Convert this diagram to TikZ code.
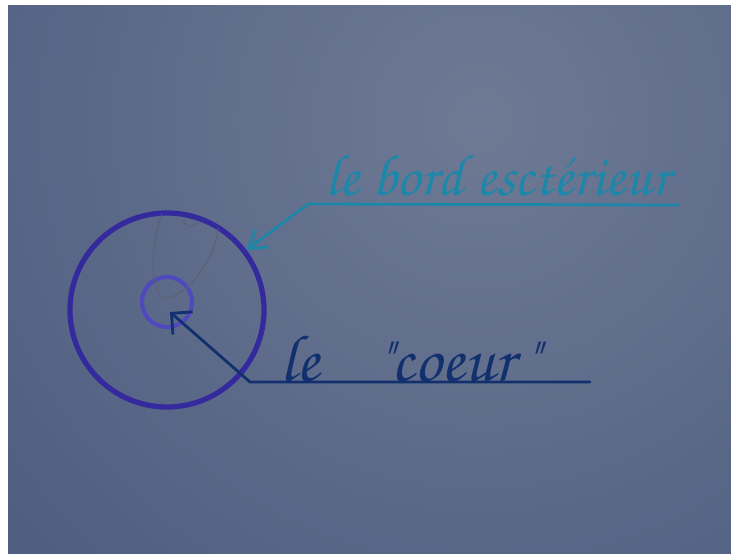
\documentclass[tikz,border=0pt]{standalone}
\usepackage[T1,TU]{fontenc}
\usetikzlibrary{arrows.meta}

\definecolor{fondclair}{RGB}{110,122,148}
\definecolor{fondsombre}{RGB}{64,80,120}
\definecolor{bordbleu}{RGB}{52,42,158}
\definecolor{coeurbleu}{RGB}{80,72,190}
\definecolor{turquoise}{RGB}{28,135,168}
\definecolor{marine}{RGB}{18,48,110}
\definecolor{crayon}{RGB}{92,97,110}

\newcommand{\ecriture}{\fontencoding{T1}\fontfamily{pzc}\fontseries{mb}\fontshape{it}\selectfont}

\begin{document}
\begin{tikzpicture}[x=0.03cm, y=-0.03cm,
    fleche/.style={line width=2.4pt, line cap=round, line join=round},
    etiquette/.style={anchor=base west, inner sep=0pt}]
    \useasboundingbox (0,0) rectangle (731,553);
    \fill[white] (0,0) rectangle (731,553);
    \begin{scope}
        \clip (8,5) rectangle (731,553);
        \shade[inner color=fondclair, outer color=fondsombre] (480,120) circle (920);
    \end{scope}
    % les deux cercles
    \node[circle, draw=bordbleu, line width=4.5pt, minimum size=5.82cm, inner sep=0pt] (bord) at (167,310) {};
    \node[circle, draw=coeurbleu, line width=3.5pt, minimum size=1.5cm, inner sep=0pt] (coeur) at (167,302) {};
    % trait au crayon
    \draw[crayon, line width=0.8pt] (162,214) .. controls (150,245) and (150,290) .. (163,298)
        .. controls (185,300) and (215,260) .. (218,228);
    \draw[crayon, line width=0.8pt] (183,220) .. controls (186,228) and (194,228) .. (198,222);
    % bord
    \coordinate (coinhaut) at (308,204);
    \coordinate (finhaut) at (679,205);
    \draw[fleche, turquoise, -{Straight Barb[length=5mm, width=6.5mm]}] (finhaut) -- (coinhaut) -- (bord.37);
    \node[etiquette, turquoise, font=\ecriture\fontsize{50}{55}\selectfont] (texthaut) at (325,195) {le bord esct\'erieur};
    % coeur
    \coordinate (milieu) at (170,312);
    \coordinate (coinbas) at (250,382);
    \coordinate (finbas) at (590,382);
    \draw[fleche, marine, -{Straight Barb[length=4.5mm, width=9mm]}] (finbas) -- (coinbas) -- (milieu);
    \node[etiquette, marine, font=\ecriture\fontsize{57}{62}\selectfont] (textbas) at (280,381) {le\hspace{1.75cm}"coeur\hspace{0.3cm}"};
\end{tikzpicture}
\end{document}
